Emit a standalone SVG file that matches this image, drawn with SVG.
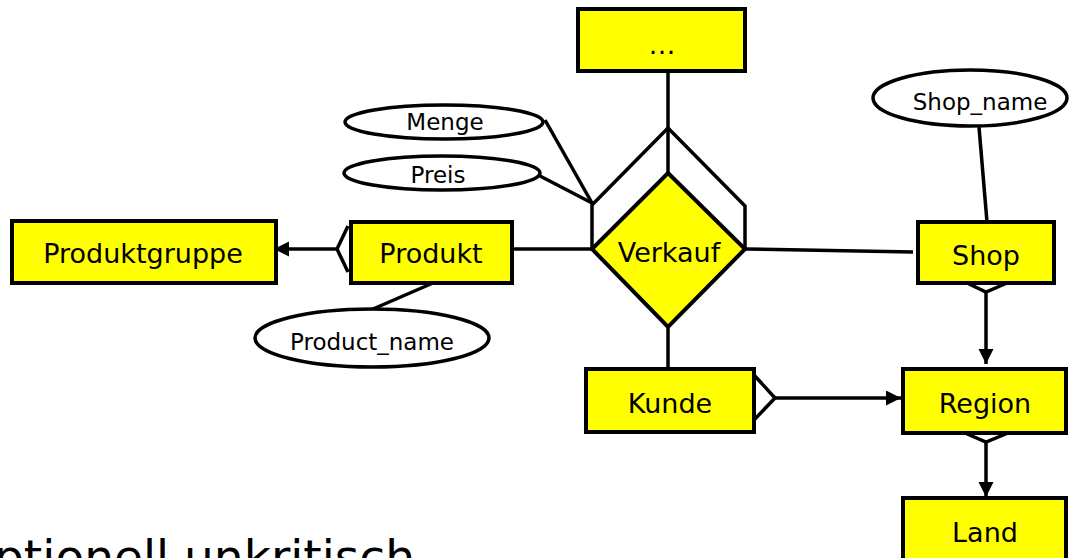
<svg xmlns="http://www.w3.org/2000/svg" width="1073" height="558" viewBox="0 0 1073 558">
<style>
.ent{fill:#FFFF00;stroke:#000;stroke-width:4}
.attr{fill:#fff;stroke:#000;stroke-width:3.5}
.ln{fill:none;stroke:#000;stroke-width:3.5;stroke-linejoin:miter}
.lbl{font-family:"DejaVu Sans",sans-serif;font-size:27px;fill:#000;text-anchor:middle}
.albl{font-family:"DejaVu Sans",sans-serif;font-size:23px;fill:#000;text-anchor:middle}
</style>
<defs>
<marker id="arr" markerUnits="userSpaceOnUse" markerWidth="16" markerHeight="16" refX="15" refY="7.5" orient="auto">
<path d="M0,0 L15,7.5 L0,15 z" fill="#000"/>
</marker>
</defs>
<rect width="1073" height="558" fill="#fff"/>
<g id="connectors">
<line class="ln" x1="668" y1="71" x2="668" y2="173"/>
<polyline class="ln" points="592,249 592,205 668,128 745,206 745,249"/>
<line class="ln" x1="545" y1="120" x2="592" y2="203"/>
<line class="ln" x1="540" y1="176" x2="592" y2="203"/>
<line class="ln" x1="512" y1="249" x2="592" y2="249"/>
<line class="ln" x1="745" y1="249" x2="913" y2="252"/>
<line class="ln" x1="668" y1="327" x2="668" y2="369"/>
<line class="ln" x1="337" y1="249" x2="274" y2="249" marker-end="url(#arr)"/>
<polyline class="ln" points="348,226 337,249 348,272"/>
<line class="ln" x1="433" y1="283" x2="373" y2="309"/>
<line class="ln" x1="979" y1="127" x2="987" y2="222"/>
<polyline class="ln" points="967,283 986,292 1007,283"/>
<line class="ln" x1="986" y1="292" x2="986" y2="364" marker-end="url(#arr)"/>
<polyline class="ln" points="965,433 986,442 1008,433"/>
<line class="ln" x1="986" y1="442" x2="986" y2="497" marker-end="url(#arr)"/>
<polyline class="ln" points="754,375 775,398 754,420"/>
<line class="ln" x1="775" y1="398" x2="901" y2="398" marker-end="url(#arr)"/>
</g>
<g id="dots"><rect class="ent" x="578" y="9" width="167" height="62"/><text class="lbl" x="662" y="54">…</text></g>
<g id="verkauf"><polygon class="ent" points="668,173 745,249 668,327 592,249"/><text class="lbl" x="669" y="262">Verkauf</text></g>
<g id="menge"><ellipse class="attr" cx="444" cy="122" rx="99" ry="17"/><text class="albl" x="445" y="130">Menge</text></g>
<g id="preis"><ellipse class="attr" cx="442" cy="173" rx="98" ry="17"/><text class="albl" x="438" y="183">Preis</text></g>
<g id="produktgruppe"><rect class="ent" x="12" y="221" width="264" height="62"/><text class="lbl" x="143" y="263">Produktgruppe</text></g>
<g id="produkt"><rect class="ent" x="351" y="222" width="161" height="61"/><text class="lbl" x="431" y="263">Produkt</text></g>
<g id="product_name"><ellipse class="attr" cx="372" cy="338" rx="117" ry="29"/><text class="albl" x="372" y="350">Product_name</text></g>
<g id="shop_name"><ellipse class="attr" cx="970" cy="98" rx="97" ry="28"/><text class="albl" x="980" y="110">Shop_name</text></g>
<g id="shop"><rect class="ent" x="918" y="222" width="136" height="61"/><text class="lbl" x="986" y="265">Shop</text></g>
<g id="kunde"><rect class="ent" x="586" y="369" width="168" height="63"/><text class="lbl" x="670" y="413">Kunde</text></g>
<g id="region"><rect class="ent" x="903" y="369" width="163" height="64"/><text class="lbl" x="985" y="413">Region</text></g>
<g id="land"><rect class="ent" x="903" y="498" width="163" height="70"/><text class="lbl" x="985" y="542">Land</text></g>
<text x="-6" y="573" font-family="DejaVu Sans, sans-serif" font-size="47" textLength="421" lengthAdjust="spacing" fill="#000">ptionell unkritisch</text>
</svg>
